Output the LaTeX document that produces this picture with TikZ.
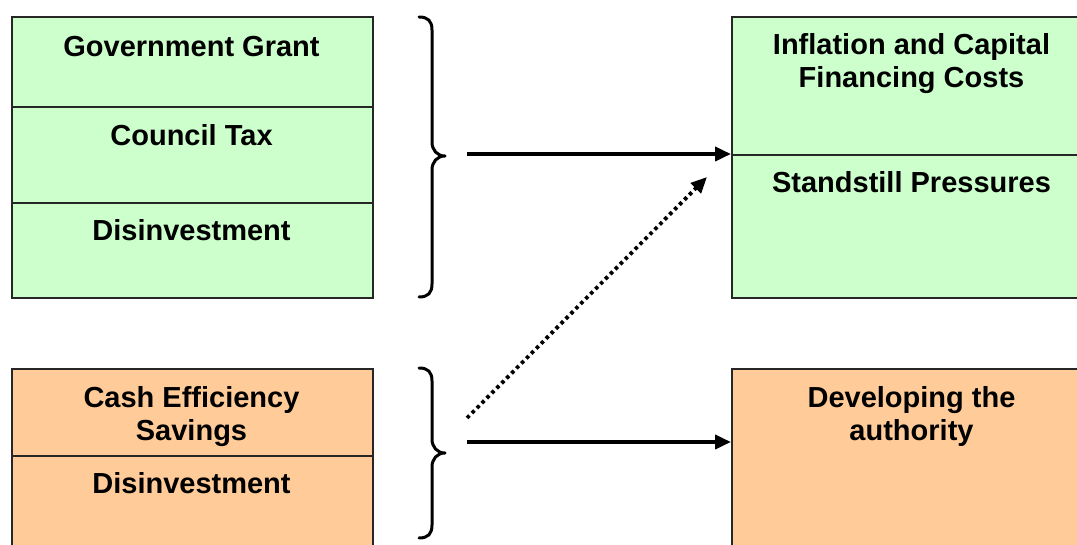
\documentclass[tikz,border=0pt]{standalone}
\usepackage{fontspec}
\setmainfont{Liberation Sans}
\usetikzlibrary{arrows.meta}
\definecolor{lgreen}{HTML}{CCFFCC}
\definecolor{lorange}{HTML}{FFCC99}
\begin{document}
\begin{tikzpicture}[x=1pt,y=-1pt,
  cell/.style={draw=black!85, line width=1.8pt, minimum width=361pt, inner sep=0pt, anchor=north west},
  gcell/.style={cell, fill=lgreen},
  ocell/.style={cell, fill=lorange},
  lbl/.style={font=\fontsize{29}{33}\selectfont\bfseries, align=center, inner sep=0pt, anchor=base},
  conn/.style={line width=3.8pt, -{Triangle[length=16pt,width=14pt]}},
  dotconn/.style={conn, dash pattern=on 3.5pt off 3.5pt},
  bracepath/.style={line width=3pt, line cap=round, line join=round}]
\useasboundingbox (0,0) rectangle (1077,545);
\clip (0,0) rectangle (1077,545);
% top left
\node[gcell, minimum height=90pt] (gg) at (11,16) {};
\node[gcell, minimum height=96pt] (ct) at (11,106) {};
\node[gcell, minimum height=95pt] (dis) at (11,202) {};
\node[lbl] (tgg) at (191.5,56.5) {Government Grant};
\node[lbl] (tct) at (191.5,146) {Council Tax};
\node[lbl] (tdis) at (191.5,241) {Disinvestment};
% top right
\node[gcell, minimum height=138pt] (infl) at (731,16) {};
\node[gcell, minimum height=143pt] (stand) at (731,154) {};
\node[lbl] (tinfl) at (911.5,88) {Inflation and Capital\\Financing Costs};
\node[lbl] (tstand) at (911.5,193) {Standstill Pressures};
% bottom left
\node[ocell, minimum height=87pt] (ces) at (11,368) {};
\node[ocell, minimum height=100pt] (dis2) at (11,455) {};
\node[lbl] (tces) at (191.5,440) {Cash Efficiency\\Savings};
\node[lbl] (tdis2) at (191.5,493) {Disinvestment};
% bottom right
\node[ocell, minimum height=190pt] (dev) at (731,368) {};
\node[lbl] (tdev) at (911.5,440) {Developing the\\authority};
% braces
\draw[bracepath] (419,17) .. controls (428,17) and (432,21) .. (432,30) -- (432,142)
  .. controls (432,150) and (437,156) .. (445,156)
  .. controls (437,156) and (432,162) .. (432,170) -- (432,284)
  .. controls (432,293) and (428,297) .. (419,297);
\draw[bracepath] (419,368) .. controls (428,368) and (432,372) .. (432,381) -- (432,439)
  .. controls (432,447) and (437,453) .. (445,453)
  .. controls (437,453) and (432,459) .. (432,467) -- (432,525)
  .. controls (432,534) and (428,538) .. (419,538);
% connectors
\coordinate (s1) at (467,154);
\coordinate (s2) at (467,442);
\coordinate (d1) at (467,418);
\coordinate (d2) at (707,177);
\draw[conn] (s1) -- (s1 -| infl.west);
\draw[conn] (s2) -- (s2 -| dev.west);
\draw[dotconn] (d1) -- (d2);
\end{tikzpicture}
\end{document}
